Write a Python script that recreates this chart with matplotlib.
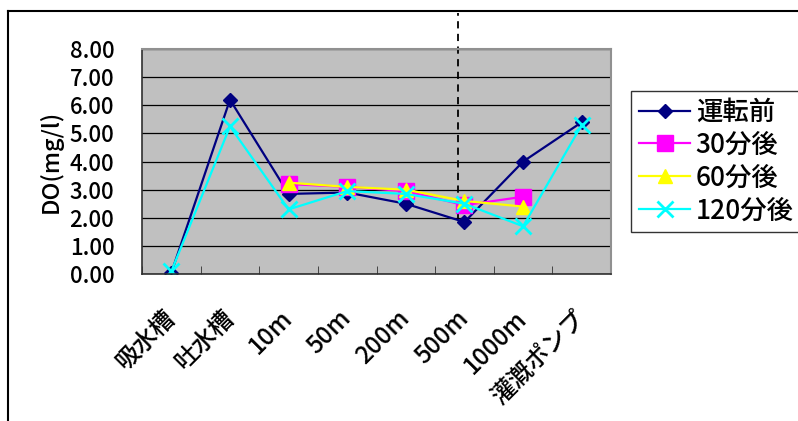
import matplotlib.pyplot as plt
import numpy as np
from matplotlib.lines import Line2D

plt.rcParams['font.family'] = ['Noto Sans CJK JP', 'DejaVu Sans']

# sampling points along the canal
sites = ['吸水槽', '吐水槽', '10m', '50m', '200m', '500m', '1000m', '灌漑ポンプ']

nan = np.nan
do_before = [0.05, 6.20, 2.85, 2.90, 2.50, 1.85, 4.00, 5.40]
do_30min = [nan, nan, 3.20, 3.10, 2.95, 2.45, 2.75, nan]
do_60min = [nan, nan, 3.25, 3.10, 3.00, 2.60, 2.40, nan]
do_120min = [0.10, 5.25, 2.30, 2.95, 2.85, 2.50, 1.70, 5.30]

series_names = ['運転前', '30分後', '60分後', '120分後']

# dashed divider between 200m..500m region
divider_x = 4.89
divider_y = (2.0, 9.3)

fig = plt.figure(figsize=(7.98, 4.21), dpi=100)
ax = fig.add_axes([0.178, 0.349, 0.5877, 0.5344])
ax.set_facecolor('#c0c0c0')

x = np.arange(len(sites))
ax.plot(x, do_before, color='#000080', lw=1.6, marker='D', ms=7.5, label=series_names[0])
ax.plot(x, do_30min, color='#ff00ff', lw=1.6, marker='s', ms=12, label=series_names[1])
ax.plot(x, do_60min, color='#ffff00', lw=1.6, marker='^', ms=10.5, label=series_names[2])
ax.plot(x, do_120min, color='#00ffff', lw=1.6, marker='x', ms=11, mew=2, label=series_names[3])

ax.plot([divider_x, divider_x], divider_y, color='black', lw=1.3,
        ls=(0, (4, 3)), clip_on=False, zorder=1.5)

ax.set_xlim(-0.5, len(sites) - 0.5)
ax.set_ylim(0, 8)
ax.set_yticks(np.arange(0, 9, 1))
ax.set_yticklabels(['%.2f' % v for v in np.arange(0, 9, 1)], fontsize=16,
                   fontweight='medium')
ax.yaxis.grid(True, color='black', lw=0.9)
ax.set_axisbelow(True)

ax.set_xticks(x)
ax.set_xticklabels(sites, fontsize=17.5, rotation=45, ha='right', va='center',
                   rotation_mode='anchor', fontweight='medium')
ax.set_xticks(np.arange(-0.5, len(sites)), minor=True)
ax.tick_params(axis='x', which='major', length=0, pad=29)
ax.tick_params(axis='x', which='minor', direction='in', length=6, color='#303030')
ax.tick_params(axis='y', direction='in', length=0, pad=20)

ax.set_ylabel('DO(mg/l)', fontsize=17, labelpad=5, fontweight='medium')

for side in ['left', 'bottom']:
    ax.spines[side].set_color('#303030')
    ax.spines[side].set_linewidth(1.2)
for side in ['top', 'right']:
    ax.spines[side].set_color('#909090')
    ax.spines[side].set_linewidth(1.5)

leg = fig.legend(loc='upper left', bbox_to_anchor=(631 / 798, 1 - 91 / 421),
                 frameon=True, fancybox=False, edgecolor='black',
                 handlelength=1.95, handletextpad=0.2, labelspacing=0.22,
                 borderpad=0.3, borderaxespad=0,
                 prop={'size': 19, 'weight': 'medium'})
leg.get_frame().set_linewidth(1.0)

# chart area border (runs off the right and bottom)
fig.add_artist(Line2D([8 / 798, 1.0], [1 - 11 / 421, 1 - 11 / 421],
                      color='black', lw=1.5, transform=fig.transFigure))
fig.add_artist(Line2D([8 / 798, 8 / 798], [0, 1 - 11 / 421],
                      color='black', lw=1.5, transform=fig.transFigure))

fig.savefig('out.png', dpi=100)
